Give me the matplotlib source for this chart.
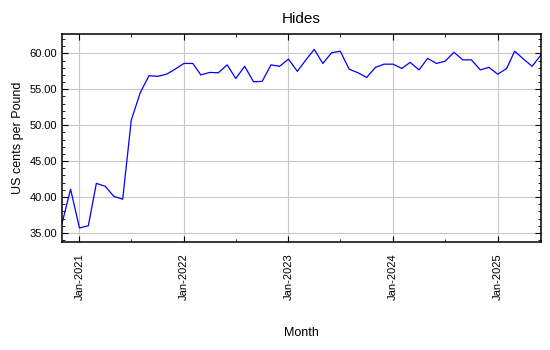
import numpy as np
import pandas as pd
import matplotlib
matplotlib.use("Agg")
from matplotlib import pyplot as plt
import matplotlib.dates as mdates

plt.rcParams['font.family'] = ['Liberation Sans', 'DejaVu Sans']

# monthly prices, Nov 2020 .. Jun 2025
months = pd.date_range("2020-11-01", "2025-06-01", freq="MS")
prices = [36.3, 41.1,
          35.7, 36.0, 41.9, 41.5, 40.1, 39.7, 50.7, 54.5, 56.9, 56.8, 57.1, 57.8,
          58.6, 58.6, 57.0, 57.35, 57.3, 58.4, 56.5, 58.2, 56.05, 56.1, 58.4, 58.2,
          59.2, 57.5, 59.0, 60.55, 58.6, 60.1, 60.3, 57.8, 57.3, 56.65, 58.05, 58.5,
          58.5, 57.9, 58.75, 57.7, 59.3, 58.6, 58.9, 60.15, 59.1, 59.1, 57.7, 58.05,
          57.1, 57.9, 60.3, 59.2, 58.2, 59.8]

yticks = [35, 40, 45, 50, 55, 60]

fig = plt.figure(figsize=(5.5, 3.5), dpi=100)
ax = fig.add_axes([0.1127, 0.3077, 0.8709, 0.5952])
ax.plot(months, prices, color='blue', linewidth=0.9)

ax.set_xlim(months[0], months[-1])
ax.set_ylim(33.7, 62.7)
ax.set_yticks(yticks)
ax.yaxis.set_minor_locator(matplotlib.ticker.MultipleLocator(1))
ax.yaxis.set_major_formatter(matplotlib.ticker.FormatStrFormatter('%.2f'))

ax.xaxis.set_major_locator(mdates.MonthLocator(bymonth=1))
ax.xaxis.set_minor_locator(mdates.MonthLocator(bymonth=7))
ax.xaxis.set_major_formatter(mdates.DateFormatter('%b-%Y'))
plt.setp(ax.get_xticklabels(), rotation=90)

#ticks inside on all four sides
ax.tick_params(which='both', direction='in', top=True, right=True, labelsize=8)
ax.tick_params(which='major', length=4)
ax.tick_params(which='minor', length=2.5)
ax.tick_params(axis='x', pad=8)
for sp in ax.spines.values():
    sp.set_linewidth(1.1)
ax.grid(True, color='#c8c8c8', linewidth=0.8)

ax.set_title("Hides", fontsize=11, pad=8)
ax.set_ylabel("US cents per Pound", fontsize=9)
ax.set_xlabel("Month", fontsize=9, labelpad=19)

fig.savefig("out.png", dpi=100)
